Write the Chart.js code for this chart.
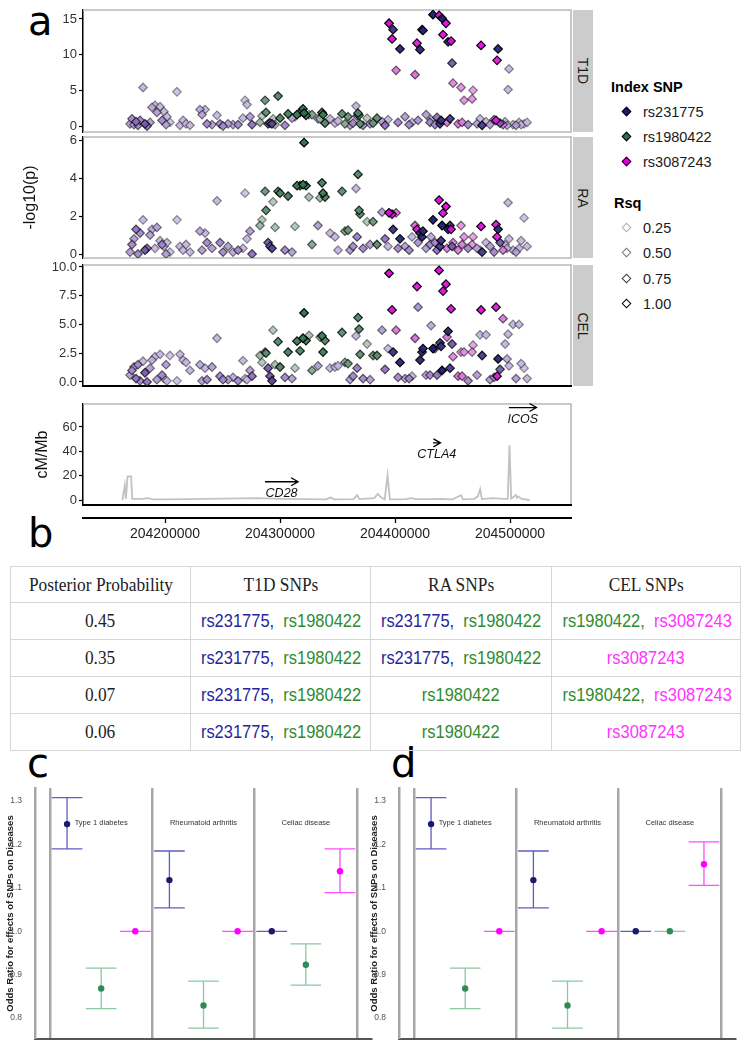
<!DOCTYPE html>
<html><head><meta charset="utf-8">
<script src="https://cdn.jsdelivr.net/npm/chart.js@4/dist/chart.umd.min.js"></script>
<style>
body{margin:0;width:746px;height:1049px;position:relative;background:#fff;font-family:"Liberation Sans",Arial,sans-serif;overflow:hidden}
canvas{position:absolute}
.letter{position:absolute;font-family:"DejaVu Sans",sans-serif;font-size:40px;line-height:40px;color:#000}
.strip{position:absolute;left:573px;width:20px;background:#cccccc}
.strip span{position:absolute;left:50%;top:50%;transform:translate(-50%,-50%) rotate(90deg);font-size:14px;color:#1a1a1a;white-space:nowrap}
.key{position:absolute;width:5px;height:5px;transform:rotate(45deg)}
.ltitle{position:absolute;font-weight:bold;font-size:14.5px;line-height:16px;color:#000;white-space:nowrap}
.ltext{position:absolute;font-size:14.5px;line-height:16px;color:#1a1a1a;white-space:nowrap}
#tbl{position:absolute;left:10px;top:566px;border-collapse:collapse;table-layout:fixed;width:730px}
#tbl td{border:1px solid #d6d6d6;text-align:center;padding:0;overflow:visible;white-space:nowrap}
#tbl td span.t{display:inline-block;transform:scaleX(0.89)}
.serif{font-family:"Liberation Serif","Times New Roman",serif;font-size:19.5px;color:#222}
.sans{font-family:"Liberation Sans",Arial,sans-serif;font-size:18.5px}
</style></head><body>

<div class="letter" style="left:28px;top:1px">a</div>
<div class="letter" style="left:28px;top:513px">b</div>
<div class="letter" style="left:27px;top:743px">c</div>
<div class="letter" style="left:391px;top:743px">d</div>

<div class="strip" style="top:10px;height:122px"><span>T1D</span></div>
<div class="strip" style="top:137px;height:121px"><span>RA</span></div>
<div class="strip" style="top:265px;height:121px"><span>CEL</span></div>

<div id="legend"></div>
<table id="tbl"></table>

<script>
// ---------------- DATA ----------------
const INDEX_NAMES = ['rs231775','rs1980422','rs3087243'];
// SNP positions (kb) on chr2
const SNP_KB = [204169.6,204171.3,204173.0,204174.8,204176.5,204178.3,204180.9,204182.6,204184.4,204187.0,
204188.7,204191.3,204193.0,204195.7,204197.4,204199.1,204200.9,204201.7,204204.3,204210.4,
204213.0,204215.7,204218.3,204221.7,204230.4,204232.2,204234.8,204236.5,204240.9,204245.2,
204247.8,204250.4,204254.8,204259.1,204263.5,204267.8,204269.6,204271.3,204273.9,204275.7,
204282.6,204284.3,204287.0,204287.8,204289.6,204291.3,204293.0,204293.9,204295.7,204298.3,
204300.0,204304.3,204307.0,204310.4,204313.0,204314.8,204317.4,204320.0,204320.9,204322.6,
204325.2,204327.8,204333.0,204334.8,204336.5,204337.4,204339.1,204343.5,204347.8,204350.4,
204353.9,204356.5,204359.1,204360.9,204363.5,204366.1,204367.0,204367.8,204368.7,204369.6,
204372.2,204375.7,204378.3,204380.9,204384.3,204388.7,204391.3,204393.9,204394.8,204397.4,
204398.3,204400.9,204402.6,204404.3,204408.7,204412.2,204414.8,204417.4,204419.1,204420.0,
204421.7,204423.5,204424.3,204427.0,204430.4,204431.3,204433.0,204434.8,204436.5,204438.3,
204439.1,204440.0,204440.9,204441.7,204444.3,204445.2,204446.1,204447.8,204448.7,204449.6,
204450.4,204454.8,204457.4,204458.3,204460.0,204463.5,204467.0,204467.8,204471.3,204473.9,
204474.8,204475.7,204479.1,204482.6,204486.1,204487.8,204488.7,204489.6,204491.3,204493.9,
204495.7,204497.4,204498.3,204499.1,204502.6,204505.2,204507.8,204509.6,204512.2,204514.8];
const T1D_P = [0.3,1.0,0.2,0.6,0.1,0.8,5.4,0.3,0.0,0.5,
2.6,2.9,1.9,2.7,0.8,2.0,0.2,1.3,0.5,4.8,
0.1,0.8,0.3,0.1,2.3,1.6,2.3,0.3,0.2,1.5,
0.3,0.0,0.3,0.2,0.2,1.1,3.6,3.0,1.3,0.2,
0.5,1.4,3.6,1.9,0.3,0.4,0.3,1.0,0.2,4.2,
1.1,0.1,1.7,1.1,1.3,1.6,1.9,2.4,1.8,1.5,
1.6,1.6,1.0,1.0,1.9,1.6,0.4,1.0,0.4,0.7,
1.7,0.3,1.3,0.1,0.4,2.8,1.4,1.8,1.5,0.3,
0.1,1.1,0.3,0.4,1.1,0.6,0.1,0.9,14.4,12.2,
13.5,7.8,0.5,10.8,1.3,0.2,0.5,7.2,11.6,0.8,
10.7,13.5,13.4,1.6,0.5,0.9,15.6,0.2,1.2,15.5,
0.3,0.8,15.1,12.8,14.4,0.5,11.8,1.0,11.9,8.8,
6.0,0.3,5.4,0.5,3.6,0.2,3.8,5.0,0.3,1.0,
11.3,0.1,0.6,0.2,0.9,0.8,9.2,10.8,0.4,0.2,
0.6,0.1,5.1,8.0,0.2,0.1,0.5,0.2,0.3,0.5];
const RA_P = [0.1,0.5,0.8,1.3,0.0,1.1,1.8,0.2,0.3,1.0,
1.3,0.3,1.4,0.7,0.5,0.4,0.0,0.6,0.1,1.8,
0.4,0.2,0.5,0.1,1.2,0.2,1.1,0.6,0.3,2.8,
0.6,0.1,0.4,0.1,0.2,0.3,3.2,0.8,1.2,0.0,
1.5,1.8,3.3,2.3,0.6,0.4,0.3,2.75,1.4,3.3,
3.2,0.2,3.05,0.1,1.45,3.6,3.6,3.65,5.86,3.6,
3.0,0.5,1.5,2.95,3.75,3.2,3.0,1.1,0.9,0.2,
3.3,1.2,1.25,0.2,0.4,3.45,0.9,4.19,2.3,2.1,
0.3,1.7,0.5,1.7,0.5,2.2,0.8,0.4,2.17,2.1,
1.3,2.17,0.3,0.8,0.4,0.2,0.9,1.5,1.3,0.6,
1.1,0.9,1.2,0.3,0.5,0.9,1.8,0.6,0.2,2.84,
0.4,0.7,1.5,2.15,2.5,0.3,1.3,1.5,1.3,0.4,
0.6,0.2,1.5,0.5,0.9,0.3,0.5,0.9,0.3,0.2,
1.45,0.1,0.6,0.4,0.1,1.55,0.9,1.3,0.6,0.2,
0.5,0.3,2.7,0.8,0.2,0.1,0.3,0.7,1.9,0.4];
const CEL_P = [0.6,1.0,1.3,0.3,1.5,0.1,1.8,0.8,0.0,1.2,
1.9,2.2,0.2,2.4,0.6,0.3,1.5,0.1,2.3,0.1,
2.4,1.9,1.7,1.0,1.5,0.1,1.2,0.2,1.3,3.8,
0.5,0.2,0.2,0.4,0.1,1.85,0.3,0.2,1.0,0.5,
2.3,1.7,2.6,2.5,1.2,0.5,0.1,4.5,1.5,3.5,
1.3,0.4,2.6,0.3,1.2,3.55,2.7,3.8,6.0,3.6,
4.05,1.0,1.4,3.9,4.0,2.6,3.6,1.2,1.3,1.4,
4.3,1.7,1.6,0.2,0.5,4.0,1.2,5.6,4.6,2.4,
0.3,3.3,0.2,2.3,2.3,4.5,1.1,2.9,9.45,6.26,
2.6,4.5,0.4,1.7,0.3,0.3,0.5,3.8,8.3,6.5,
1.9,2.6,2.9,0.6,0.6,4.9,2.9,2.9,0.6,9.7,
3.4,3.1,1.0,7.9,8.5,3.9,4.4,1.2,6.35,3.3,
2.2,0.5,2.6,0.5,2.6,0.1,2.6,3.2,0.6,4.1,
6.26,2.3,4.1,0.2,0.4,6.5,0.5,2.0,1.1,5.5,
3.3,2.0,4.15,1.4,5.0,0.3,5.0,1.6,1.2,0.3];
// index SNP each SNP is assigned to (0 rs231775, 1 rs1980422, 2 rs3087243)
const INDEX_SNP = [0,0,0,0,0,0,0,0,0,0,
0,0,0,0,0,0,0,0,0,0,
0,0,0,0,0,0,0,0,0,0,
0,0,0,0,0,0,0,0,0,0,
1,1,1,1,0,0,0,1,1,1,
1,0,1,0,1,1,1,1,1,1,
1,1,0,1,1,1,1,0,0,0,
1,1,1,0,0,0,0,1,1,1,
0,1,0,1,1,0,0,0,2,2,
0,2,0,0,0,0,0,2,2,0,
0,0,0,0,0,0,0,0,0,2,
0,0,0,2,2,2,0,0,2,0,
2,2,2,2,2,0,2,2,0,0,
2,0,0,0,0,2,2,0,0,2,
0,0,0,0,0,0,0,0,0,0];
const RSQ = [0.4,0.5,0.4,0.6,0.5,0.5,0.3,0.7,0.6,0.4,
0.35,0.3,0.4,0.3,0.5,0.3,0.4,0.3,0.25,0.25,
0.3,0.3,0.3,0.3,0.35,0.4,0.3,0.5,0.4,0.3,
0.5,0.5,0.4,0.35,0.5,0.3,0.25,0.3,0.4,0.6,
0.4,0.3,0.6,0.7,0.7,0.7,0.8,0.3,0.35,0.75,
0.8,0.5,0.85,0.4,0.3,0.9,0.8,0.95,1.0,0.9,
0.35,0.5,0.4,0.4,0.85,0.9,0.8,0.3,0.3,0.3,
0.7,0.5,0.6,0.4,0.5,0.3,0.55,0.8,0.75,0.7,
0.5,0.3,0.4,0.6,0.7,0.4,0.6,0.3,1.0,0.95,
0.9,0.5,0.5,0.95,0.4,0.5,0.3,0.55,0.9,0.45,
0.95,0.95,0.95,0.4,0.5,0.35,1.0,0.5,0.6,1.0,
0.85,0.9,1.0,0.95,0.95,0.5,0.95,0.85,0.95,0.7,
0.45,0.5,0.4,0.5,0.4,0.5,0.4,0.35,0.4,0.3,
0.95,0.85,0.3,0.4,0.5,0.9,0.9,0.95,0.7,0.5,
0.3,0.35,0.3,0.3,0.3,0.4,0.3,0.3,0.25,0.3];
const RSQ_LEVELS = [0.25,0.50,0.75,1.00];
const T1D_TICKS = [0,5,10,15];
const RA_TICKS = [0,2,4,6];
const CEL_TICKS = [0,2.5,5,7.5,10];
const RECOMB_TICKS = [0,20,40,60];
const POS_TICKS = [204200000,204300000,204400000,204500000];
// recombination rate (cM/Mb)
const RECOMB_KB = [204163,204165,204166,204167.5,204170.5,204171.5,204180,204185,204190,204200,204220,204250,204280,204300,204320,204340,204344,204347,204364,204367,204369,204382,204385,204388,204391,204393.5,204395.5,204410,204414,204418,204430,204440,204450,204457.5,204459,204469,204472,204474,204475.5,204485,204495,204498,204499.5,204501,204505,204506,204507,204510,204517];
const RECOMB_RATE = [0,12,1,19.5,19.5,1,1,1.5,0.5,0.5,0.8,1.2,1.5,1,0.8,0.6,2,0.6,0.8,4,0.8,1.5,5,2,0.5,20,0.5,0.7,1.5,0.8,0.7,1,0.5,4,0.5,1,3,9,0.8,1.5,1,1,45,1,4,2,3,1,0];
// genes
const GENES = ['CD28','CTLA4','ICOS'];
const GENE_START_KB = [204287.0,204433.0,204499.0];
const GENE_END_KB = [204315.7,204439.5,204523.0];
const GENE_ROW = [0,1,2];
// table (panel b)
const TABLE_HEAD = ['Posterior Probability','T1D SNPs','RA SNPs','CEL SNPs'];
const POST_PROB = ['0.45','0.35','0.07','0.06'];
const T1D_SET = [[0,1],[0,1],[0,1],[0,1]];
const RA_SET = [[0,1],[0,1],[1],[1]];
const CEL_SET = [[1,2],[2],[1,2],[2]];
// panels c and d: odds ratios [disease][snp]
const DISEASES = ['Type 1 diabetes','Rheumatoid arthritis','Celiac disease'];
const OR_C = [[1.247,0.868,1.0],[1.118,0.829,1.0],[1.0,0.923,1.1385]];
const LO_C = [[1.190,0.822,1.0],[1.054,0.777,1.0],[1.0,0.876,1.089]];
const HI_C = [[1.308,0.915,1.0],[1.185,0.885,1.0],[1.0,0.971,1.190]];
const OR_D = [[1.247,0.868,1.0],[1.118,0.829,1.0],[1.0,1.0,1.1545]];
const LO_D = [[1.190,0.822,1.0],[1.054,0.777,1.0],[1.0,1.0,1.106]];
const HI_D = [[1.308,0.915,1.0],[1.185,0.885,1.0],[1.0,1.0,1.206]];
const OR_TICKS = [0.8,0.9,1.0,1.1,1.2,1.3];

// ---------------- STYLE ----------------
const SNP_RGB = [[26,26,110],[40,115,75],[225,0,225]];
// colour ramps (low r2 -> mid -> high r2) per index SNP
const RAMP = [
  [[212,204,232],[146,112,196],[26,26,110]],
  [[200,214,206],[108,150,124],[40,115,75]],
  [[238,196,238],[214,96,214],[225,0,225]]
];
const SNP_TEXT_COL = ['#26269a','#2e8b2e','#ff33ff'];
const OR_POINT_COL = ['#191970','#2e8b57','#ff00ff'];
const OR_BAR_COL = ['#605cc8','#8cc8a4','#ff4dff'];
const XMIN = 204128700, XMAX = 204553000;
const PL = 83, PR = 571, PAD = 10;
function fillOf(g, r){
  const t = Math.max(0, Math.min(1, (r-0.2)/0.8));
  const R = RAMP[g];
  const [a,b,u] = t < 0.5 ? [R[0],R[1],t/0.5] : [R[1],R[2],(t-0.5)/0.5];
  const c = a.map((v,k)=>Math.round(v+(b[k]-v)*u));
  return `rgba(${c[0]},${c[1]},${c[2]},0.95)`;
}
const lineOf = r => `rgba(0,0,0,${(0.2+0.8*r).toFixed(3)})`;

Chart.defaults.font.family = '"Liberation Sans", Arial, sans-serif';
Chart.defaults.color = '#333';
Chart.defaults.animation = false;
Chart.defaults.responsive = false;
Chart.defaults.devicePixelRatio = 1;
Chart.defaults.plugins.legend.display = false;
Chart.defaults.plugins.tooltip.enabled = false;

function addCanvas(left, top, w, h){
  const c = document.createElement('canvas');
  c.width = w; c.height = h;
  c.style.left = left+'px'; c.style.top = top+'px';
  c.style.width = w+'px'; c.style.height = h+'px';
  document.body.appendChild(c);
  return c;
}

const framePlugin = {
  id:'frame',
  beforeDatasetsDraw(chart, args, o){
    const a = chart.chartArea, ctx = chart.ctx;
    ctx.save();
    ctx.lineWidth = 1.6; ctx.strokeStyle = '#b8b8b8';
    ctx.beginPath();
    ctx.moveTo(a.left, a.top); ctx.lineTo(a.right, a.top); ctx.lineTo(a.right, a.bottom);
    if (!o.bottom) ctx.lineTo(a.left, a.bottom);
    ctx.stroke();
    if (o.bottom){
      ctx.strokeStyle = o.bottom; ctx.lineWidth = 2;
      ctx.beginPath(); ctx.moveTo(a.left, a.bottom); ctx.lineTo(a.right+1, a.bottom); ctx.stroke();
    }
    ctx.restore();
  }
};

function yAxis(ticks, fmt, ymin, ymax, title){
  return {
    min:ymin, max:ymax,
    afterFit:s=>{ s.width = PL; },
    afterBuildTicks:s=>{ s.ticks = ticks.map(v=>({value:v})); },
    ticks:{callback:fmt, color:'#333', font:{size:13}, padding:2},
    grid:{display:true, drawOnChartArea:false, drawTicks:true, tickLength:4, tickColor:'#000', tickWidth:1.2},
    border:{display:true, color:'#000', width:1.5},
    title: title || {display:false}
  };
}

function assoc(vals, ticks, fmt, top, bottom, ymin, ymax, bottomColor, title){
  const cv = addCanvas(0, top-PAD, PR+PAD, bottom-top+2*PAD);
  const order = RSQ.map((r,i)=>i).sort((a,b)=>RSQ[a]-RSQ[b]);
  new Chart(cv, {
    type:'scatter',
    data:{datasets:[{
      data: order.map(i=>({x:SNP_KB[i]*1000, y:vals[i]})),
      pointStyle:'rectRot', pointRadius:4.3, pointBorderWidth:1.2,
      pointBackgroundColor: order.map(i=>fillOf(INDEX_SNP[i], RSQ[i])),
      pointBorderColor: order.map(i=>lineOf(RSQ[i]))
    }]},
    options:{
      layout:{padding:{top:PAD,bottom:PAD,left:0,right:PAD}},
      scales:{
        x:{type:'linear', display:false, min:XMIN, max:XMAX},
        y:yAxis(ticks, fmt, ymin, ymax, title)
      },
      plugins:{frame:{bottom:bottomColor}}
    },
    plugins:[framePlugin]
  });
}

assoc(T1D_P, T1D_TICKS, v=>String(v), 10, 132, -0.84, 16.26, null);
assoc(RA_P, RA_TICKS, v=>String(v), 137, 258, -0.21, 6.16, null,
  {display:true, text:'-log10(p)', font:{size:16}, color:'#111', padding:{top:21,bottom:0}});
assoc(CEL_P, CEL_TICKS, v=>v.toFixed(1), 265, 386, -0.35, 10.17, '#000');

// recombination panel
const genePlugin = {
  id:'genes',
  afterDatasetsDraw(chart, args, o){
    const ctx = chart.ctx, xs = chart.scales.x, ys = chart.scales.y;
    ctx.save();
    ctx.strokeStyle = '#000'; ctx.fillStyle = '#111'; ctx.lineWidth = 1.3;
    ctx.font = 'italic 12.5px "Liberation Sans", Arial, sans-serif';
    ctx.textAlign = 'center'; ctx.textBaseline = 'middle';
    GENES.forEach((g,i)=>{
      const x1 = xs.getPixelForValue(GENE_START_KB[i]*1000);
      const x2 = xs.getPixelForValue(GENE_END_KB[i]*1000);
      const y = ys.getPixelForValue(o.rowY[GENE_ROW[i]]);
      ctx.beginPath(); ctx.moveTo(x1,y); ctx.lineTo(x2,y);
      ctx.moveTo(x2-7,y-4); ctx.lineTo(x2,y); ctx.lineTo(x2-7,y+4); ctx.stroke();
      ctx.fillText(g, (x1+x2)/2, y+11.5);
    });
    ctx.restore();
  }
};
{
  const top = 404, bottom = 505;
  const cv = addCanvas(0, top-PAD, PR+PAD, bottom-top+2*PAD);
  new Chart(cv, {
    type:'scatter',
    data:{datasets:[{
      data: RECOMB_KB.map((k,i)=>({x:k*1000, y:RECOMB_RATE[i]})),
      showLine:true, borderColor:'#c2c2c2', borderWidth:1.8, pointRadius:0, tension:0
    }]},
    options:{
      layout:{padding:{top:PAD,bottom:PAD,left:0,right:PAD}},
      scales:{
        x:{type:'linear', display:false, min:XMIN, max:XMAX},
        y:yAxis(RECOMB_TICKS, v=>String(v), -4.1, 78.9,
          {display:true, text:'cM/Mb', font:{size:16}, color:'#111', padding:{top:33,bottom:0}})
      },
      plugins:{frame:{bottom:'#000'}, genes:{rowY:[15,47,76]}}
    },
    plugins:[framePlugin, genePlugin]
  });
}
// shared position axis
{
  const cv = addCanvas(0, 508, PR+PAD, 42);
  new Chart(cv, {
    type:'scatter',
    data:{datasets:[]},
    options:{
      layout:{padding:{top:0,bottom:0,left:PL,right:PAD}},
      scales:{
        x:{type:'linear', min:XMIN, max:XMAX, position:'bottom',
          afterFit:s=>{ s.height = 32; },
          afterBuildTicks:s=>{ s.ticks = POS_TICKS.map(v=>({value:v})); },
          ticks:{callback:v=>String(v), color:'#222', font:{size:14}, padding:3, maxRotation:0, autoSkip:false},
          grid:{display:true, drawOnChartArea:false, drawTicks:true, tickLength:5, tickColor:'#000', tickWidth:1.3},
          border:{display:true, color:'#000', width:2}},
        y:{display:false, min:0, max:1}
      }
    }
  });
}

// legend (panel a)
(function(){
  const L = document.getElementById('legend');
  let h = '';
  h += `<div class="ltitle" style="left:611px;top:79px">Index SNP</div>`;
  INDEX_NAMES.forEach((n,i)=>{
    const cy = 112 + 25*i;
    h += `<div class="key" style="left:623px;top:${cy-4}px;background:rgb(${SNP_RGB[i].join(',')});border:1px solid #000"></div>`;
    h += `<div class="ltext" style="left:643px;top:${cy-8}px">${n}</div>`;
  });
  h += `<div class="ltitle" style="left:614px;top:195px">Rsq</div>`;
  RSQ_LEVELS.forEach((r,i)=>{
    const cy = 228 + 25.3*i;
    h += `<div class="key" style="left:623px;top:${cy-4}px;background:#fff;border:1.4px solid rgba(0,0,0,${(0.1+0.9*r).toFixed(2)})"></div>`;
    h += `<div class="ltext" style="left:643px;top:${cy-8}px">${r.toFixed(2)}</div>`;
  });
  L.innerHTML = h;
})();

// table (panel b)
(function(){
  const T = document.getElementById('tbl');
  const widths = [180,180,181,189];
  const snpCell = set => set.map((k,j)=>`<span style="color:${SNP_TEXT_COL[k]}">${INDEX_NAMES[k]}${j<set.length-1?',&nbsp; ':''}</span>`).join('');
  let h = '<colgroup>' + widths.map(w=>`<col style="width:${w}px">`).join('') + '</colgroup>';
  h += '<tr style="height:36px">' + TABLE_HEAD.map(t=>`<td class="serif"><span class="t">${t}</span></td>`).join('') + '</tr>';
  POST_PROB.forEach((p,i)=>{
    h += `<tr style="height:37px"><td class="serif"><span class="t">${p}</span></td>`;
    [T1D_SET, RA_SET, CEL_SET].forEach(S=>{ h += `<td class="sans"><span class="t">${snpCell(S[i])}</span></td>`; });
    h += '</tr>';
  });
  T.innerHTML = h;
})();

// panels c and d
const errorBarPlugin = {
  id:'errbars',
  beforeDatasetsDraw(chart, args, o){
    const ctx = chart.ctx, xs = chart.scales.x, ys = chart.scales.y;
    ctx.save(); ctx.lineWidth = 1.3;
    chart.data.datasets.forEach(ds=>{
      ctx.strokeStyle = ds.barColor;
      ds.data.forEach((p,i)=>{
        const x = xs.getPixelForValue(p.x);
        const hw = xs.getPixelForValue(p.x + o.capHalf) - x;
        const yl = ys.getPixelForValue(ds.lo[i]), yh = ys.getPixelForValue(ds.hi[i]);
        ctx.beginPath();
        ctx.moveTo(x, yl); ctx.lineTo(x, yh);
        ctx.moveTo(x-hw, yl); ctx.lineTo(x+hw, yl);
        ctx.moveTo(x-hw, yh); ctx.lineTo(x+hw, yh);
        ctx.stroke();
      });
    });
    ctx.restore();
  },
  afterDraw(chart, args, o){
    const ctx = chart.ctx, xs = chart.scales.x, ys = chart.scales.y;
    ctx.save(); ctx.fillStyle = '#333'; ctx.font = '7.5px "Liberation Sans", Arial, sans-serif';
    ctx.textAlign = 'center'; ctx.textBaseline = 'middle';
    DISEASES.forEach((d,di)=>{ ctx.fillText(d, xs.getPixelForValue(di*3+1.5), ys.getPixelForValue(o.labelY)); });
    ctx.restore();
  }
};
function orChart(left, OR, LO, HI){
  const cv = addCanvas(left, 778, 35+336+10, 271);
  new Chart(cv, {
    type:'scatter',
    data:{datasets: INDEX_NAMES.map((n,s)=>({
      label:n,
      data: DISEASES.map((d,di)=>({x:di*3+s+0.5, y:OR[di][s]})),
      lo: LO.map(r=>r[s]), hi: HI.map(r=>r[s]), barColor: OR_BAR_COL[s],
      pointRadius:3.2, pointBorderWidth:0, pointBackgroundColor: OR_POINT_COL[s]
    }))},
    options:{
      layout:{padding:{top:10,bottom:9,left:0,right:10}},
      scales:{
        x:{type:'linear', min:-0.44, max:9.41,
          afterFit:s=>{ s.height = 0; },
          afterBuildTicks:s=>{ s.ticks = [0,3,6,9].map(v=>({value:v})); },
          ticks:{display:false},
          grid:{display:true, drawTicks:false, color:'#a6a6a6', lineWidth:2.5},
          border:{display:true, color:'#555', width:2}},
        y:{min:0.752, max:1.330,
          afterFit:s=>{ s.width = 35; },
          afterBuildTicks:s=>{ s.ticks = OR_TICKS.map(v=>({value:v})); },
          ticks:{callback:v=>v.toFixed(1), color:'#555', font:{size:8.5}, padding:5},
          grid:{display:false},
          border:{display:true, color:'#a6a6a6', width:2.5},
          title:{display:true, text:'Odds Ratio for effects of SNPs on Diseases', font:{size:9.5, weight:'bold'}, color:'#222', padding:{top:5,bottom:0}}}
      },
      plugins:{errbars:{capHalf:0.45, labelY:1.25}}
    },
    plugins:[errorBarPlugin]
  });
}
orChart(0, OR_C, LO_C, HI_C);
orChart(364, OR_D, LO_D, HI_D);
</script>
</body></html>
